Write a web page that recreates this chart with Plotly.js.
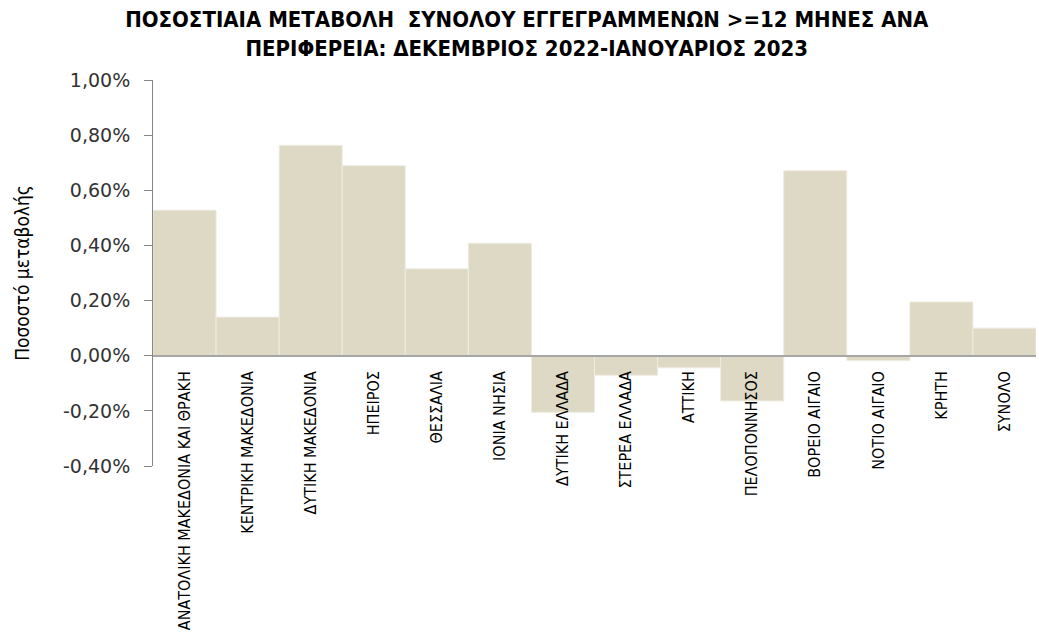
<!DOCTYPE html>
<html>
<head>
<meta charset="utf-8">
<script src="https://cdn.plot.ly/plotly-3.0.1.min.js"></script>
<style>html,body{margin:0;padding:0;background:#fff;}#chart{width:1039px;height:632px;}</style>
</head>
<body>
<div id="chart"></div>
<script>
const regions = ["ΑΝΑΤΟΛΙΚΗ ΜΑΚΕΔΟΝΙΑ ΚΑΙ ΘΡΑΚΗ","ΚΕΝΤΡΙΚΗ ΜΑΚΕΔΟΝΙΑ","ΔΥΤΙΚΗ ΜΑΚΕΔΟΝΙΑ","ΗΠΕΙΡΟΣ","ΘΕΣΣΑΛΙΑ","ΙΟΝΙΑ ΝΗΣΙΑ","ΔΥΤΙΚΗ ΕΛΛΑΔΑ","ΣΤΕΡΕΑ ΕΛΛΑΔΑ","ΑΤΤΙΚΗ","ΠΕΛΟΠΟΝΝΗΣΟΣ","ΒΟΡΕΙΟ ΑΙΓΑΙΟ","ΝΟΤΙΟ ΑΙΓΑΙΟ","ΚΡΗΤΗ","ΣΥΝΟΛΟ"];
const changePct = [0.528, 0.140, 0.763, 0.689, 0.315, 0.408, -0.205, -0.071, -0.044, -0.164, 0.671, -0.018, 0.195, 0.100];
const yTickVals = [-0.004,-0.002,0,0.002,0.004,0.006,0.008,0.010];
const yTickText = ["-0,40%","-0,20%","0,00%","0,20%","0,40%","0,60%","0,80%","1,00%"];

const values = changePct.map(v => v/100);

const trace = {
  type: 'bar',
  x: regions,
  y: values,
  marker: {color: '#ddd9c4', line: {color: '#eeece3', width: 1}},
  hoverinfo: 'x+y'
};

const layout = {
  width: 1039, height: 632,
  margin: {l: 153, r: 3, t: 80, b: 166},
  paper_bgcolor: '#ffffff', plot_bgcolor: '#ffffff',
  bargap: 0,
  showlegend: false,
  title: {
    text: 'ΠΟΣΟΣΤΙΑΙΑ ΜΕΤΑΒΟΛΗ  ΣΥΝΟΛΟΥ ΕΓΓΕΓΡΑΜΜΕΝΩΝ >=12 ΜΗΝΕΣ ΑΝΑ<br>ΠΕΡΙΦΕΡΕΙΑ: ΔΕΚΕΜΒΡΙΟΣ 2022-ΙΑΝΟΥΑΡΙΟΣ 2023',
    font: {family: '"Liberation Sans Narrow", "DejaVu Sans Condensed", "Noto Sans", sans-serif', size: 22, color: '#000', weight: 'bold'},
    xref: 'container', yref: 'container',
    x: 0.507, xanchor: 'center', y: 0.957, yanchor: 'middle'
  },
  xaxis: {
    type: 'category',
    anchor: 'free', position: 0.4/1.4,
    showline: true, linecolor: '#a6a6a6', linewidth: 2,
    ticks: '', tickangle: -90,
    ticklabelstandoff: 8,
    tickfont: {family: '"Liberation Sans Narrow", "DejaVu Sans Condensed", sans-serif', size: 16, color: '#000'},
    showgrid: false, zeroline: false,
    range: [-0.5, 13.5]
  },
  yaxis: {
    range: [-0.004, 0.010],
    tickvals: yTickVals,
    ticktext: yTickText,
    showline: true, linecolor: '#868686', linewidth: 1,
    ticks: 'outside', ticklen: 8, tickcolor: '#868686',
    ticklabelstandoff: 10,
    tickfont: {family: 'Verdana, "DejaVu Sans", sans-serif', size: 19, color: '#333'},
    showgrid: false, zeroline: false,
    title: {text: 'Ποσοστό μεταβολής', standoff: 28,
      font: {family: '"Liberation Sans Narrow", "DejaVu Sans Condensed", sans-serif', size: 19, color: '#000'}}
  }
};

Plotly.newPlot('chart', [trace], layout, {displayModeBar: false, staticPlot: true});
</script>
</body>
</html>
